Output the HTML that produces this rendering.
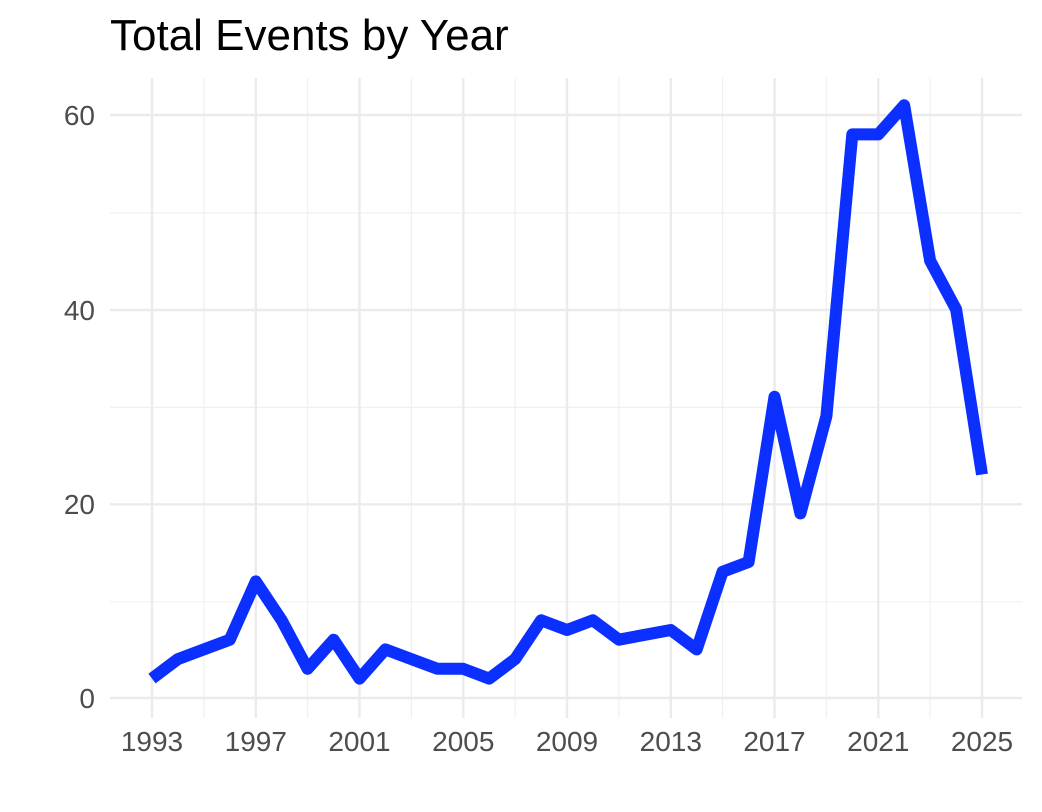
<!DOCTYPE html>
<html><head><style>body{margin:0;background:#fff}svg{display:block}</style></head><body>
<svg width="1042" height="812" xmlns="http://www.w3.org/2000/svg" font-family="Liberation Sans, sans-serif">
<rect width="1042" height="812" fill="#fff"/>
<g stroke="#f0f0f0" stroke-width="1.2">
<line x1="110" x2="1022" y1="601.8" y2="601.8"/><line x1="110" x2="1022" y1="407.4" y2="407.4"/><line x1="110" x2="1022" y1="213" y2="213"/>
<line x1="203.9" x2="203.9" y1="78" y2="718"/><line x1="307.6" x2="307.6" y1="78" y2="718"/><line x1="411.4" x2="411.4" y1="78" y2="718"/><line x1="515.1" x2="515.1" y1="78" y2="718"/><line x1="618.9" x2="618.9" y1="78" y2="718"/><line x1="722.6" x2="722.6" y1="78" y2="718"/><line x1="826.4" x2="826.4" y1="78" y2="718"/><line x1="930.1" x2="930.1" y1="78" y2="718"/>
</g>
<g stroke="#ebebeb" stroke-width="2.4">
<line x1="110" x2="1022" y1="698" y2="698"/><line x1="110" x2="1022" y1="504.3" y2="504.3"/><line x1="110" x2="1022" y1="310" y2="310"/><line x1="110" x2="1022" y1="115" y2="115"/>
<line x1="152" x2="152" y1="78" y2="718"/><line x1="255.8" x2="255.8" y1="78" y2="718"/><line x1="359.5" x2="359.5" y1="78" y2="718"/><line x1="463.3" x2="463.3" y1="78" y2="718"/><line x1="567" x2="567" y1="78" y2="718"/><line x1="670.8" x2="670.8" y1="78" y2="718"/><line x1="774.5" x2="774.5" y1="78" y2="718"/><line x1="878.3" x2="878.3" y1="78" y2="718"/><line x1="982" x2="982" y1="78" y2="718"/>
</g>
<polyline fill="none" stroke="#0a2fff" stroke-width="12" stroke-linejoin="round" points="152,678.6 177.9,659.1 203.9,649.4 229.8,639.7 255.8,581.4 281.7,620.3 307.6,668.8 333.6,639.7 359.5,678.6 385.4,649.4 411.4,659.1 437.3,668.8 463.3,668.8 489.2,678.6 515.1,659.1 541.1,620.3 567,630 592.9,620.3 618.9,639.7 644.8,634.8 670.8,630 696.7,649.4 722.6,571.7 748.6,562 774.5,396.8 800.4,513.4 826.4,416.2 852.3,134.4 878.3,134.4 904.2,105.3 930.1,260.7 956.1,309.3 982,474.5"/>
<g fill="#4d4d4d" font-size="28" text-anchor="end">
<text x="95" y="708">0</text><text x="95" y="514">20</text><text x="95" y="320">40</text><text x="95" y="125">60</text>
</g>
<g fill="#4d4d4d" font-size="28" text-anchor="middle">
<text x="152" y="751">1993</text><text x="255.8" y="751">1997</text><text x="359.5" y="751">2001</text><text x="463.3" y="751">2005</text><text x="567" y="751">2009</text><text x="670.8" y="751">2013</text><text x="774.5" y="751">2017</text><text x="878.3" y="751">2021</text><text x="982" y="751">2025</text>
</g>
<text x="110" y="50" font-size="44" fill="#000">Total Events by Year</text>
</svg>
</body></html>
